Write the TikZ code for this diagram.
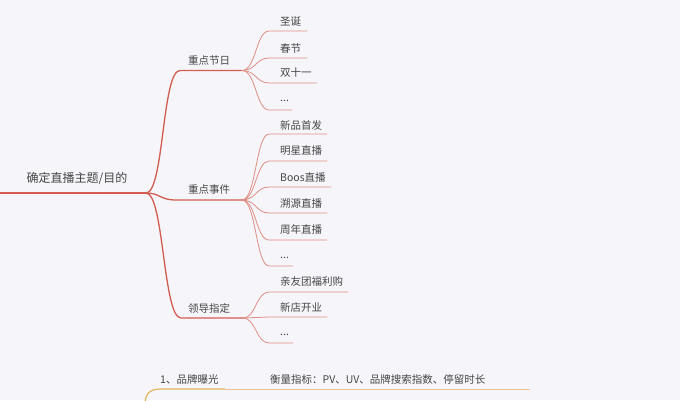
\documentclass[tikz,border=0pt]{standalone}
\usepackage{fontspec}
\newfontfamily\cjk{Noto Sans CJK SC}
\newcommand\mydots{...}
\definecolor{bg}{RGB}{245,245,250}
\definecolor{redl}{RGB}{212,92,80}
\definecolor{redc}{RGB}{224,142,130}
\definecolor{txt}{RGB}{70,70,70}
\definecolor{yel}{RGB}{228,180,90}
\definecolor{peach}{RGB}{240,190,150}
\begin{document}
\begin{tikzpicture}[x=1pt,y=-1pt,
  maintext/.style={font=\cjk\fontsize{12}{14}\selectfont,text=txt,inner sep=0pt},
  brtext/.style={font=\cjk\fontsize{10.5}{12}\selectfont,text=txt,inner sep=0pt},
  chtext/.style={font=\cjk\fontsize{10.5}{12}\selectfont,text=txt,inner sep=0pt,anchor=west},
  l1/.style={draw=redl,line width=1.3pt,line cap=round},
  l2/.style={draw=redc,line width=0.8pt,line cap=round},
  ly/.style={draw=yel,line width=1.2pt},
  lp/.style={draw=peach,line width=0.9pt}]
\fill[bg] (0,0) rectangle (680,400);
\useasboundingbox (0,0) rectangle (680,400);

% root
\coordinate (start) at (0,193);
\coordinate (stub) at (10,193);
\coordinate (root) at (146,193);
\node[maintext] (m) at (77,178) {确定直播主题/目的};
\draw[l1] (start) -- (root);
\draw[draw=redl,line width=2.4pt] (start) -- (stub);

% branches
\coordinate (b1s) at (180,70.5); \coordinate (b1) at (242,70.5);
\coordinate (b2s) at (176,200); \coordinate (b2) at (242,200);
\coordinate (b3s) at (181,318); \coordinate (b3) at (243,318);
\node[brtext] (t1) at (209,61) {重点节日};
\node[brtext] (t2) at (209,190) {重点事件};
\node[brtext] (t3) at (209,308) {领导指定};
\draw[l1] (root) .. controls (164,193) and (162,70.5) .. (b1s) -- (b1);
\draw[l1] (root) .. controls (160,193) and (160,200) .. (b2s) -- (b2);
\draw[l1] (root) .. controls (164,193) and (163,318) .. (b3s) -- (b3);

% children
\foreach \pp/\py/\nm/\ty/\yl/\xe/\lab in {
  b1/70.5/c11/22/31/307/圣诞,
  b1/70.5/c12/48/58/307/春节,
  b1/70.5/c13/73/83/317/双十一,
  b1/70.5/c14/101/110/292/\mydots,
  b2/200/c21/125/134/327/新品首发,
  b2/200/c22/151/161/327/明星直播,
  b2/200/c23/178/187/331/Boos直播,
  b2/200/c24/204/213/327/溯源直播,
  b2/200/c25/230/240/327/周年直播,
  b2/200/c26/258/266/293/\mydots,
  b3/318/c31/282/292/348/亲友团福利购,
  b3/318/c32/308/317/327/新店开业,
  b3/318/c33/335/343/293/\mydots}{
  \node[chtext] (\nm) at (280,\ty) {\lab};
  \coordinate (\nm s) at (269,\yl);
  \coordinate (\nm e) at (\xe,\yl);
  \draw[l2] (\pp) .. controls (256,\py) and (256,\yl) .. (\nm s) -- (\nm e);
}

% bottom branch
\node[chtext] (k1) at (160,379) {1、品牌曝光};
\node[chtext] (k2) at (270,379) {衡量指标：PV、UV、品牌搜索指数、停留时长};
\coordinate (ys) at (145,404);
\coordinate (ya) at (160,389);
\coordinate (yb) at (225,389);
\coordinate (pe) at (530,389);
\draw[lp] (yb) -- (pe);
\draw[ly] (ys) .. controls (145,394) and (150,389) .. (ya) -- (yb);
\end{tikzpicture}
\end{document}
